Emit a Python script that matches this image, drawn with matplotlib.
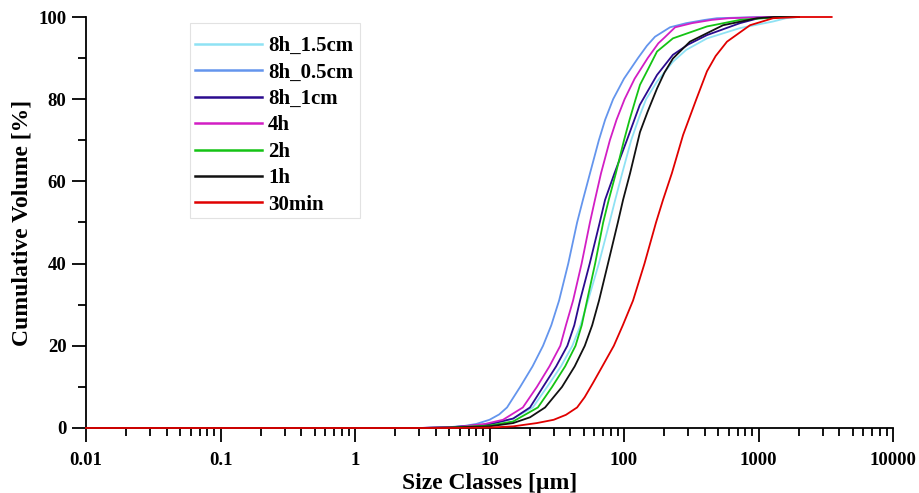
import matplotlib
matplotlib.use("Agg")
import matplotlib.pyplot as plt
from matplotlib.ticker import LogLocator, FixedLocator, NullFormatter
from matplotlib.patches import Rectangle

# ---- data ----
labels = ["8h_1.5cm", "8h_0.5cm", "8h_1cm", "4h", "2h", "1h", "30min"]
colors = ["#8fe2f4", "#6495ed", "#2b0b8e", "#d21ec4", "#14c314", "#111111", "#e00000"]

# 8h_1.5cm
x_8h_15 = [0.01, 3, 5, 10, 15, 21, 26.8, 34, 41.3, 47.5, 54, 65, 78, 86, 97, 113, 131.5, 146, 176, 231, 290, 414, 728, 1282, 1600, 2000]
y_8h_15 = [0, 0, 0.15, 0.8, 2.3, 5, 10, 15, 20, 25, 31, 40, 50, 55.5, 62, 70, 76.2, 80, 84.3, 89.1, 92, 94.8, 97.3, 98.9, 99.7, 100]

# 8h_0.5cm
x_8h_05 = [0.01, 3, 5, 6.5, 8, 10, 11.8, 13.5, 16.9, 20.9, 25, 28.8, 32.9, 38.5, 44.8, 49.5, 55.9, 65, 72.4, 83, 100, 127, 148, 170, 220, 290, 400, 490, 1000, 2000]
y_8h_05 = [0, 0, 0.2, 0.5, 1, 2, 3.3, 5, 10, 15, 20, 25, 31, 40, 50, 55.5, 62, 70, 75, 80, 85, 90, 93, 95.2, 97.5, 98.5, 99.3, 99.7, 100, 100]

# 8h_1cm
x_8h_1 = [0.01, 3, 5, 10, 15, 20, 25, 31.3, 37.9, 42.7, 47.1, 55.6, 66, 72.3, 85, 105, 131, 176, 231, 300, 414, 728, 1000, 1500, 2000]
y_8h_1 = [0, 0, 0.15, 0.9, 2.3, 5, 10, 15, 20, 25, 31, 40, 50, 55.5, 62, 70, 78.6, 85.9, 90.8, 93.3, 95.6, 98.5, 99.7, 100, 100]

# 4h
x_4h = [0.01, 3, 6, 9.3, 12.6, 17.7, 22.5, 27.9, 33.6, 37, 41.8, 48.4, 55.8, 60.8, 67.5, 78.5, 88, 101, 120, 150, 180, 200, 240, 320, 450, 600, 1200, 2000]
y_4h = [0, 0, 0.3, 1, 2, 5, 10, 15, 20, 25, 31, 40, 50, 55.5, 62, 70, 75, 80, 85, 90, 93.6, 95, 97.5, 98.5, 99.3, 99.7, 100, 100]

# 2h
x_2h = [0.01, 3, 5, 10, 15, 22.9, 29.2, 36.5, 43.6, 48.5, 53.1, 61, 70, 77, 87, 100, 110, 122, 131.5, 152, 176, 231, 414, 728, 1500, 2000]
y_2h = [0, 0, 0.1, 0.6, 1.6, 5, 10, 15, 20, 25, 31, 40, 50, 55.5, 62, 70, 75, 80, 83.5, 87.5, 91.6, 94.8, 97.7, 99.3, 100, 100]

# 1h
x_1h = [0.01, 3, 5, 10, 15, 20, 25.9, 34.6, 43, 51.1, 58, 65.2, 76, 90, 98.4, 111, 131.5, 150, 176, 200, 231, 309, 545, 975, 1300, 2000]
y_1h = [0, 0, 0.1, 0.4, 1.2, 2.6, 5, 10, 15, 20, 25, 31, 40, 50, 55.5, 62, 72, 77, 82.6, 86.5, 89.9, 94, 98, 99.7, 100, 100]

# 30min
x_30 = [0.01, 5, 10, 15, 22.5, 30, 37, 44.8, 51, 58.9, 69, 84, 98, 116.7, 142, 173, 195, 227, 275, 345, 414, 480, 583, 865, 1282, 2000, 3500]
y_30 = [0, 0, 0.1, 0.4, 1.2, 2.0, 3.2, 5, 7.5, 11, 15, 20, 25, 31, 40, 50, 55.5, 62, 71.3, 80, 86.8, 90.5, 94, 98, 99.7, 100, 100]

series_x = [x_8h_15, x_8h_05, x_8h_1, x_4h, x_2h, x_1h, x_30]
series_y = [y_8h_15, y_8h_05, y_8h_1, y_4h, y_2h, y_1h, y_30]

xticks = [0.01, 0.1, 1, 10, 100, 1000, 10000]
xticklabels = ["0.01", "0.1", "1", "10", "100", "1000", "10000"]
yticks = [0, 20, 40, 60, 80, 100]
yminor = [10, 30, 50, 70, 90]

# ---- figure ----
plt.rcParams['font.family'] = ['Liberation Serif', 'DejaVu Serif']
plt.rcParams['font.weight'] = 'bold'

W, H = 919, 493
fig = plt.figure(figsize=(W/100, H/100), dpi=100)
ax = fig.add_axes([86/W, 1-428/H, (893-86)/W, (428-17)/H])

for xs, ys, lab, col in zip(series_x, series_y, labels, colors):
    ax.plot(xs, ys, color=col, lw=1.3, label=lab, clip_on=False, zorder=3,
            solid_joinstyle='round')

ax.set_xscale('log')
ax.set_xlim(0.01, 10000)
ax.set_ylim(0, 100)

ax.xaxis.set_major_locator(FixedLocator(xticks))
ax.set_xticklabels(xticklabels)
ax.xaxis.set_minor_locator(LogLocator(base=10, subs=range(2, 10), numticks=20))
ax.xaxis.set_minor_formatter(NullFormatter())
ax.set_yticks(yticks)
ax.set_yticks(yminor, minor=True)

for s in ['top', 'right']:
    ax.spines[s].set_visible(False)
for s in ['left', 'bottom']:
    ax.spines[s].set_linewidth(1.3)

ax.tick_params(axis='both', which='major', length=10, width=1.3, direction='out', labelsize=13.5)
ax.tick_params(axis='both', which='minor', length=5.5, width=1.3, direction='out')
ax.tick_params(axis='x', which='major', pad=7)
ax.tick_params(axis='y', which='major', pad=4)
for t in ax.get_xticklabels() + ax.get_yticklabels():
    t.set_fontweight('bold')

ax.set_xlabel("Size Classes [µm]", fontsize=17, fontweight='bold', labelpad=3)
ax.set_ylabel("Cumulative Volume [%]", fontsize=17, fontweight='bold', labelpad=4)

leg = ax.legend(loc='upper left', bbox_to_anchor=(195/W, 1-36/H), bbox_transform=fig.transFigure,
                fontsize=15, handlelength=3.2, handletextpad=0.3, labelspacing=0.31,
                borderpad=0, borderaxespad=0, frameon=False)
for t in leg.get_texts():
    t.set_fontweight('bold')
for l in leg.get_lines():
    l.set_linewidth(1.8)

fig.patches.append(Rectangle((190/W, 1-218/H), 170/W, 195/H, transform=fig.transFigure,
                             facecolor='none', edgecolor='#e2e2e2', lw=0.8))

fig.savefig("out.png", dpi=100)
